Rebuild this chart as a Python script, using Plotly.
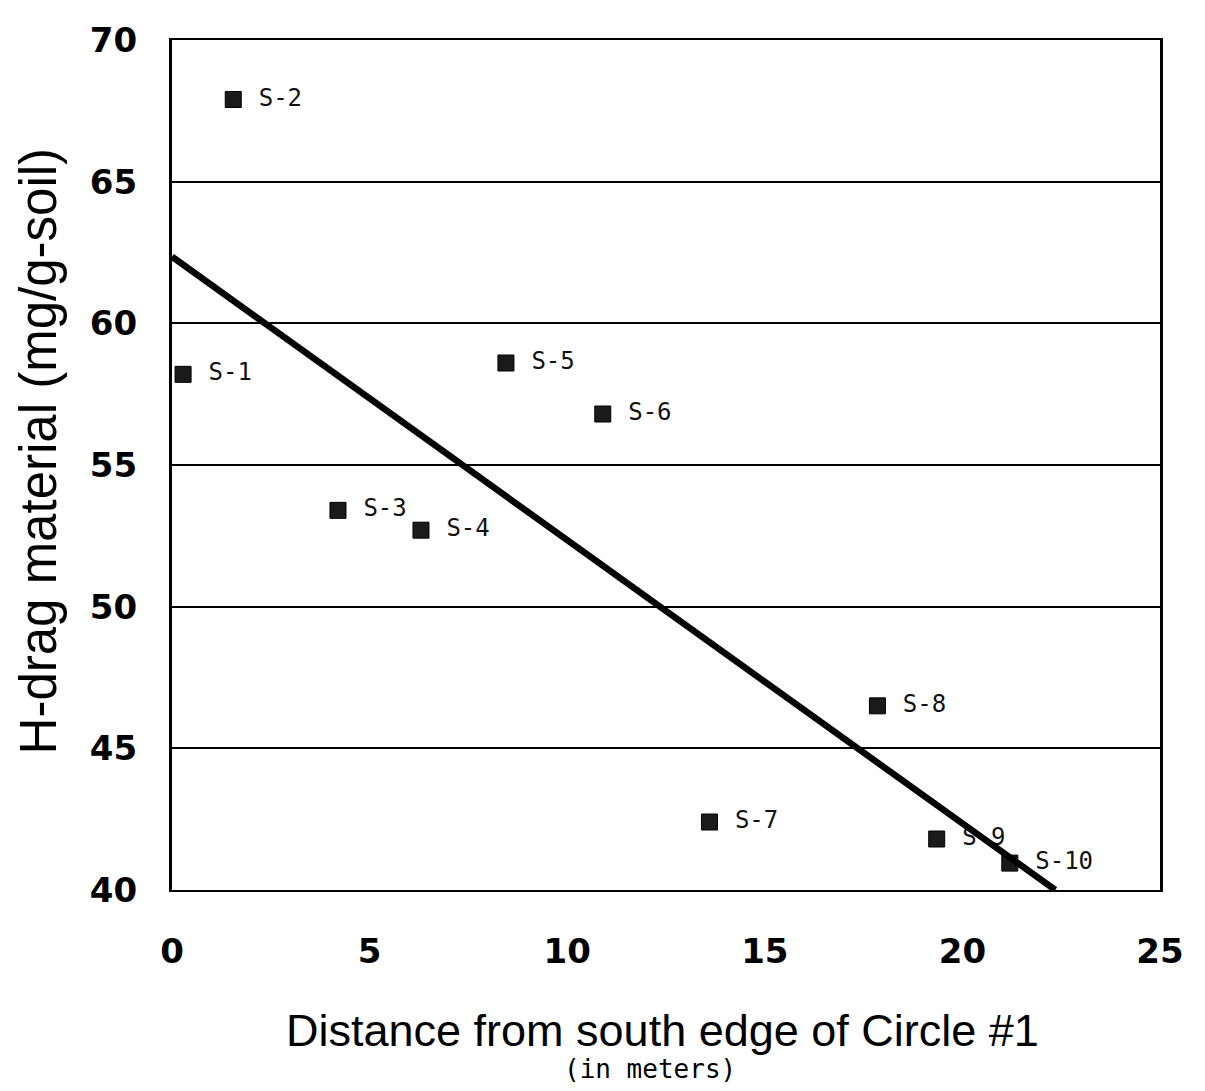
import plotly.graph_objects as go

# Data
sample_labels = ["S-1", "S-2", "S-3", "S-4", "S-5", "S-6", "S-7", "S-8", "S-9", "S-10"]
distance_m = [0.28, 1.55, 4.2, 6.3, 8.45, 10.9, 13.6, 17.85, 19.35, 21.2]
hdrag_mg_g = [58.2, 67.9, 53.4, 52.7, 58.6, 56.8, 42.4, 46.5, 41.8, 40.95]

trend_x = [0.0, 22.35]
trend_y = [62.35, 40.0]

x_ticks = [0, 5, 10, 15, 20, 25]
y_ticks = [40, 45, 50, 55, 60, 65, 70]

fig = go.Figure()

fig.add_trace(go.Scatter(
    x=distance_m, y=hdrag_mg_g,
    mode="markers+text",
    text=[" " + s for s in sample_labels],
    textposition="middle right",
    textfont=dict(family="DejaVu Sans Mono", size=24, color="#111"),
    marker=dict(symbol="square", size=16, color="#1a1a1a",
                line=dict(color="#000", width=1)),
    cliponaxis=False,
    showlegend=False,
))

fig.add_trace(go.Scatter(
    x=trend_x, y=trend_y,
    mode="lines",
    line=dict(color="#000", width=6.5),
    showlegend=False,
))

fig.update_xaxes(
    range=[0, 25], tickvals=x_ticks,
    tickfont=dict(family="DejaVu Sans", size=34, color="#000", weight="bold"),
    ticklabelstandoff=30,
    showgrid=False, zeroline=False,
    showline=True, linecolor="#000", linewidth=2, mirror=True,
    ticks="",
)
fig.update_yaxes(
    range=[40, 70], tickvals=y_ticks,
    tickfont=dict(family="DejaVu Sans", size=34, color="#000", weight="bold"),
    ticklabelstandoff=25,
    showgrid=True, gridcolor="#000", gridwidth=1.5,
    zeroline=False,
    showline=True, linecolor="#000", linewidth=3, mirror=True,
    ticks="",
)

fig.add_annotation(
    text="Distance from south edge of Circle #1",
    xref="paper", yref="paper", x=0.496, y=-0.165, yanchor="middle", xanchor="center",
    showarrow=False,
    font=dict(family="Liberation Sans", size=45, color="#000"),
)
fig.add_annotation(
    text="(in meters)",
    xref="paper", yref="paper", x=0.484, y=-0.211, yanchor="middle", xanchor="center",
    showarrow=False,
    font=dict(family="DejaVu Sans Mono", size=26, color="#000"),
)
fig.add_annotation(
    text="H-drag material (mg/g-soil)",
    xref="paper", yref="paper", x=-0.1356, y=0.516, textangle=-90,
    xanchor="center", yanchor="middle",
    showarrow=False,
    font=dict(family="Liberation Sans", size=51, color="#000"),
)

fig.update_layout(
    width=1205, height=1091,
    margin=dict(l=164, r=53, t=22, b=209),
    plot_bgcolor="white", paper_bgcolor="white",
)

fig.write_html("out.html")
